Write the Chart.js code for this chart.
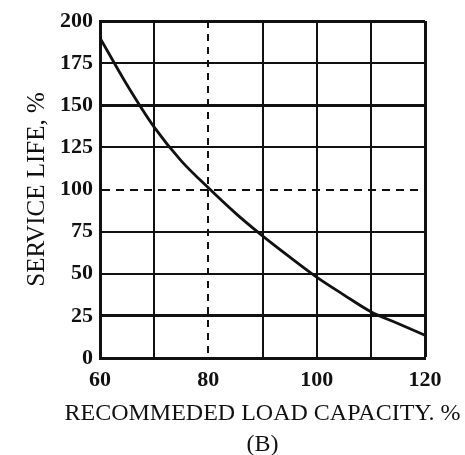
<!DOCTYPE html>
<html>
<head>
<meta charset="utf-8">
<script src="https://cdn.jsdelivr.net/npm/chart.js@4"></script>
<style>
  html, body { margin: 0; padding: 0; background: #fff; }
  #wrap { width: 465px; height: 455px; }
</style>
</head>
<body>
<div id="wrap"><canvas id="lifeChart"></canvas></div>
<script>
// load capacity (%) and service life (%)
const loadCapacity = [60, 65, 70, 75, 80, 85, 90, 95, 100, 105, 110, 115, 120];
const serviceLife = [190, 162, 137, 117, 101, 86, 72.5, 60, 48, 37.5, 27.5, 20.5, 13.5];
const xLabelsShown = [60, 80, 100, 120];
const xTitle = ['RECOMMEDED LOAD CAPACITY. %', '(B)'];
const yTitle = 'SERVICE LIFE, %';

const ink = '#111';
const serif = "'Liberation Serif', 'DejaVu Serif', serif";

// x caption is wider than the plot, chart.js would squeeze it, so draw it here
const xCaption = {
    id: 'xCaption',
    afterDraw(chart) {
        const c = chart.ctx;
        const area = chart.chartArea;
        const mid = (area.left + area.right) / 2;
        c.save();
        c.fillStyle = ink;
        c.font = "24px 'Liberation Serif', serif";
        c.textAlign = 'center';
        c.textBaseline = 'middle';
        c.fillText(xTitle[0], mid, 414);
        c.fillText(xTitle[1], mid, 445);
        c.restore();
    }
};

const ctx = document.getElementById('lifeChart').getContext('2d');
const chart = new Chart(ctx, {
    type: 'line',
    data: {
        datasets: [{
            data: loadCapacity.map((x, i) => ({ x: x, y: serviceLife[i] })),
            borderColor: ink,
            borderWidth: 2.8,
            pointRadius: 0,
            cubicInterpolationMode: 'monotone',
            fill: false
        }]
    },
    plugins: [xCaption],
    options: {
        responsive: true,
        maintainAspectRatio: false,
        animation: false,
        layout: { padding: { top: 21, right: 40, left: 0, bottom: 0 } },
        plugins: { legend: { display: false }, tooltip: { enabled: false } },
        scales: {
            x: {
                type: 'linear',
                min: 60,
                max: 120,
                afterFit: s => { s.height = 97; },
                ticks: {
                    stepSize: 10,
                    color: ink,
                    padding: 9,
                    maxRotation: 0,
                    font: { family: serif, size: 22, weight: 'bold' },
                    callback: v => xLabelsShown.includes(v) ? v : ''
                },
                grid: {
                    drawTicks: false,
                    color: ink,
                    lineWidth: c => (c.tick && c.tick.value === 120) ? 3 : 2
                },
                border: {
                    color: ink,
                    width: 3,
                    dash: c => (c.tick && c.tick.value === 80) ? [7, 6] : []
                },
                title: { display: false }
            },
            y: {
                min: 0,
                max: 200,
                afterFit: s => { s.width = 100; },
                ticks: {
                    stepSize: 25,
                    color: ink,
                    padding: 7,
                    font: { family: serif, size: 22, weight: 'bold' }
                },
                grid: {
                    drawTicks: false,
                    color: ink,
                    lineWidth: c => {
                        const v = c.tick ? c.tick.value : null;
                        return (v === 150 || v === 25 || v === 200) ? 3 : 2;
                    }
                },
                border: {
                    color: ink,
                    width: 3,
                    dash: c => (c.tick && c.tick.value === 100) ? [8, 6] : []
                },
                title: {
                    display: true,
                    text: yTitle,
                    color: ink,
                    padding: { top: 22, bottom: 0 },
                    font: { family: serif, size: 25, lineHeight: 1.2 }
                }
            }
        }
    }
});
</script>
</body>
</html>
